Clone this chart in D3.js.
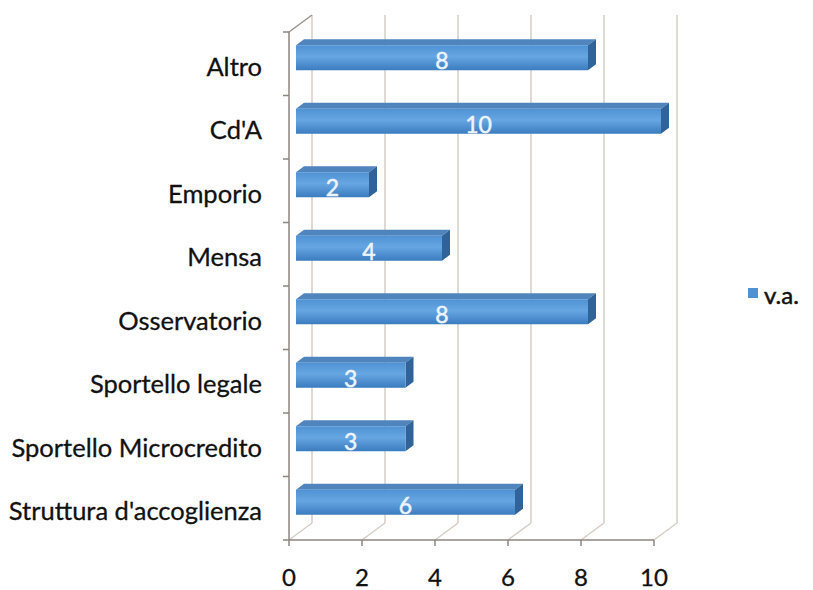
<!DOCTYPE html>
<html><head><meta charset="utf-8">
<script src="https://cdn.jsdelivr.net/npm/d3@7/dist/d3.min.js"></script>
<style>body{margin:0;background:#fff}svg{display:block}</style>
</head><body>
<svg id="c" width="813" height="590"></svg>
<script>
const categories = ["Altro","Cd'A","Emporio","Mensa","Osservatorio","Sportello legale","Sportello Microcredito","Struttura d'accoglienza"];
const values = [8,10,2,4,8,3,3,6];
const xTicks = [0,2,4,6,8,10];
const seriesName = "v.a.";

const svg = d3.select("#c");
const font = "Lato, 'Open Sans', sans-serif";
const x = d3.scaleLinear().domain([0,10]).range([289,654]);
const y = d3.scaleBand().domain(categories).range([32,540]);
const D = {dx:23, dy:-17};      // plot depth
const B = {ox:7, oy:-6, dx:8, dy:-6, h:25}; // bar placement / depth

const defs = svg.append("defs");
const g1 = defs.append("linearGradient").attr("id","front").attr("x1",0).attr("y1",0).attr("x2",0).attr("y2",1);
g1.append("stop").attr("offset","0%").attr("stop-color","#4f92d4");
g1.append("stop").attr("offset","45%").attr("stop-color","#66a6e2");
g1.append("stop").attr("offset","100%").attr("stop-color","#3b7cc0");

const grid = "#d6cec6";
svg.append("g").selectAll("line").data(xTicks).join("line")
  .attr("x1",d=>x(d)+D.dx).attr("x2",d=>x(d)+D.dx)
  .attr("y1",15).attr("y2",540+D.dy)
  .attr("stroke",grid).attr("stroke-width",1.5);
svg.append("g").selectAll("line").data(xTicks).join("line")
  .attr("x1",d=>x(d)).attr("x2",d=>x(d)+D.dx)
  .attr("y1",540).attr("y2",540+D.dy)
  .attr("stroke",grid).attr("stroke-width",1.5);
svg.append("line").attr("x1",x(0)).attr("y1",32).attr("x2",x(0)+D.dx).attr("y2",32+D.dy)
  .attr("stroke","#9a948e").attr("stroke-width",1.5);

const ax = "#8c8680";
svg.append("line").attr("x1",x(0)).attr("x2",x(0)).attr("y1",32).attr("y2",540).attr("stroke",ax).attr("stroke-width",1.5);
svg.append("line").attr("x1",x(0)).attr("x2",x(10)).attr("y1",540).attr("y2",540).attr("stroke",ax).attr("stroke-width",1.5);
const catTicks = categories.map(c=>y(c)).concat([540]);
svg.append("g").selectAll("line").data(catTicks).join("line")
  .attr("x1",x(0)-6).attr("x2",x(0)).attr("y1",d=>d).attr("y2",d=>d).attr("stroke",ax).attr("stroke-width",1.5);
svg.append("g").selectAll("line").data(xTicks).join("line")
  .attr("x1",d=>x(d)).attr("x2",d=>x(d)).attr("y1",540).attr("y2",546).attr("stroke",ax).attr("stroke-width",1.5);

svg.append("g").selectAll("text").data(xTicks).join("text")
  .attr("x",d=>x(d)).attr("y",586).attr("text-anchor","middle")
  .attr("font-family",font).attr("font-size",24).attr("fill","#111")
  .attr("stroke","#111").attr("stroke-width",0.3).text(d=>d);
svg.append("g").selectAll("text").data(categories).join("text")
  .attr("x",262).attr("y",d=>y(d)+y.bandwidth()/2+12).attr("text-anchor","end")
  .attr("font-family",font).attr("font-size",25.5).attr("fill","#111")
  .attr("stroke","#111").attr("stroke-width",0.3).text(d=>d);

const bars = svg.append("g").selectAll("g").data(categories.map((c,i)=>({c,v:values[i]}))).join("g");
bars.each(function(d){
  const g = d3.select(this);
  const x0 = x(0)+B.ox, x1 = x(d.v)+B.ox;
  const yt = y(d.c)+y.bandwidth()/2+B.oy-B.h/2, yb = yt+B.h;
  g.append("path").attr("d",`M${x0},${yt}L${x0+B.dx},${yt+B.dy}L${x1+B.dx},${yt+B.dy}L${x1},${yt}Z`).attr("fill","#4f84bd");
  g.append("path").attr("d",`M${x1},${yt}L${x1+B.dx},${yt+B.dy}L${x1+B.dx},${yb+B.dy}L${x1},${yb}Z`).attr("fill","#2f6399");
  g.append("rect").attr("x",x0).attr("y",yt).attr("width",x1-x0).attr("height",B.h).attr("fill","url(#front)");
  g.append("text").attr("x",(x0+x1)/2).attr("y",yb-1).attr("text-anchor","middle")
    .attr("font-family",font).attr("font-size",23).attr("fill","#eef4fb")
    .attr("stroke","#eef4fb").attr("stroke-width",0.5).text(d.v);
});

svg.append("rect").attr("x",748).attr("y",288).attr("width",10).attr("height",10).attr("fill","#4f92d4");
svg.append("text").attr("x",764).attr("y",304).attr("font-family",font).attr("font-size",24).attr("fill","#111")
  .attr("stroke","#111").attr("stroke-width",0.5).text(seriesName);
</script>
</body></html>
